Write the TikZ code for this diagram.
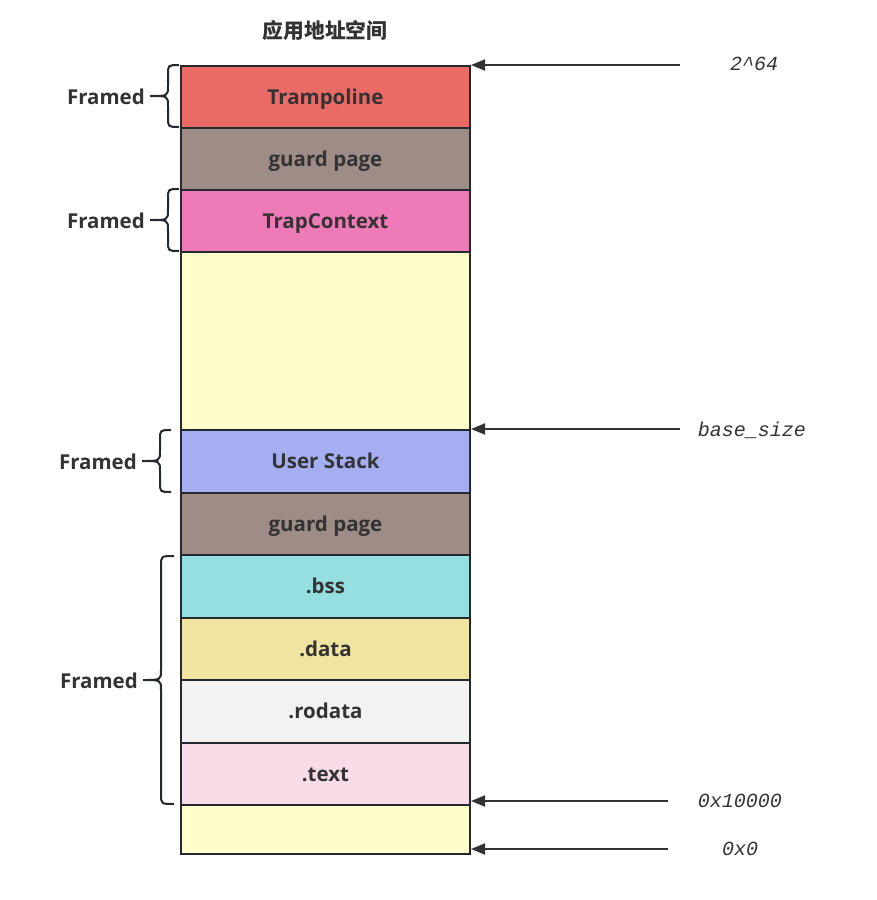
\documentclass[tikz,border=0pt]{standalone}
\usepackage{fontspec}
\setmainfont{Open Sans}
\setmonofont{Liberation Mono}
\newfontfamily\cjk{Noto Sans CJK SC}
\usetikzlibrary{arrows.meta}

\definecolor{txt}{HTML}{333333}
\definecolor{edge}{HTML}{23292F}
\definecolor{trampc}{HTML}{EA6B66}
\definecolor{guardc}{HTML}{9E8C87}
\definecolor{trapc}{HTML}{EF7AB8}
\definecolor{freec}{HTML}{FFFFCC}
\definecolor{stackc}{HTML}{A5AEF1}
\definecolor{bssc}{HTML}{95DFE1}
\definecolor{datac}{HTML}{F1E3A0}
\definecolor{rodatac}{HTML}{F2F2F2}
\definecolor{textc}{HTML}{FADCE9}

\tikzset{
  area/.style={draw=edge, line width=2pt, minimum width=289pt, anchor=north west,
    inner sep=0pt, text=txt, text height=18pt, text depth=4pt,
    font=\fontsize{20.5}{24}\selectfont\bfseries},
  addr/.style={text=txt, font=\fontsize{20}{22}\selectfont\ttfamily\itshape},
  pointer/.style={draw=txt, line width=2pt, -{Triangle[length=14pt,width=11pt]}},
  bracepath/.style={draw=edge, line width=2pt},
  framedlbl/.style={text=txt, anchor=east, inner sep=0pt, text height=20pt, text depth=4pt,
    font=\fontsize{20.5}{24}\selectfont\bfseries}
}

% #1 top, #2 bottom, #3 x of the arms, #4 x of the spine, #5 x of the tip, #6 name
\newcommand{\framedbrace}[6]{%
  \draw[bracepath] (#3,#1) .. controls (#4,#1) .. (#4,#1+10)
    -- (#4,#1/2+#2/2-10) .. controls (#4,#1/2+#2/2) .. (#5,#1/2+#2/2)
    .. controls (#4,#1/2+#2/2) .. (#4,#1/2+#2/2+10)
    -- (#4,#2-10) .. controls (#4,#2) .. (#3,#2);
  \node[framedlbl] (#6) at (#5-5,#1/2+#2/2) {Framed};
}

\begin{document}
\begin{tikzpicture}[x=1pt,y=-1pt]
  \useasboundingbox (0,0) rectangle (876,900);

  \node[text=txt, font=\fontsize{20.8}{22}\selectfont\cjk\bfseries] (title) at (325,31) {应用地址空间};

  % address space, top to bottom
  \node[area, fill=trampc,  minimum height=62pt]  (tramp)  at (180,65)  {Trampoline};
  \node[area, fill=guardc,  minimum height=62pt]  (guard1) at (180,127) {guard page};
  \node[area, fill=trapc,   minimum height=62pt]  (trap)   at (180,189) {TrapContext};
  \node[area, fill=freec,   minimum height=178pt] (free1)  at (180,251) {};
  \node[area, fill=stackc,  minimum height=63pt]  (ustack) at (180,429) {User Stack};
  \node[area, fill=guardc,  minimum height=62pt]  (guard2) at (180,492) {guard page};
  \node[area, fill=bssc,    minimum height=63pt]  (bss)    at (180,554) {.bss};
  \node[area, fill=datac,   minimum height=62pt]  (data)   at (180,617) {.data};
  \node[area, fill=rodatac, minimum height=63pt]  (rodata) at (180,679) {.rodata};
  \node[area, fill=textc,   minimum height=62pt]  (text)   at (180,742) {.text};
  \node[area, fill=freec,   minimum height=49pt]  (free2)  at (180,804) {};

  % addresses
  \node[addr] (a64)   at (754,64)  {2\char`\^64};
  \node[addr] (abase) at (752,430) {base\_size};
  \node[addr] (aelf)  at (740,801) {0x10000};
  \node[addr] (azero) at (740,849) {0x0};

  \coordinate (p64)   at (680,65);
  \coordinate (pbase) at (680,429);
  \coordinate (pelf)  at (668,801);
  \coordinate (pzero) at (668,849);

  \draw[pointer] (p64)   -- (tramp.north east);
  \draw[pointer] (pbase) -- (ustack.north east);
  \draw[pointer] (pelf)  -- (pelf -| text.east);
  \draw[pointer] (pzero) -- (pzero -| free2.east);

  % framed regions
  \framedbrace{65}{127}{179}{168}{150}{fr1}
  \framedbrace{189}{251}{179}{168}{150}{fr2}
  \framedbrace{430}{492}{171}{160}{142}{fr3}
  \framedbrace{556}{804}{174}{161}{143}{fr4}
\end{tikzpicture}
\end{document}
